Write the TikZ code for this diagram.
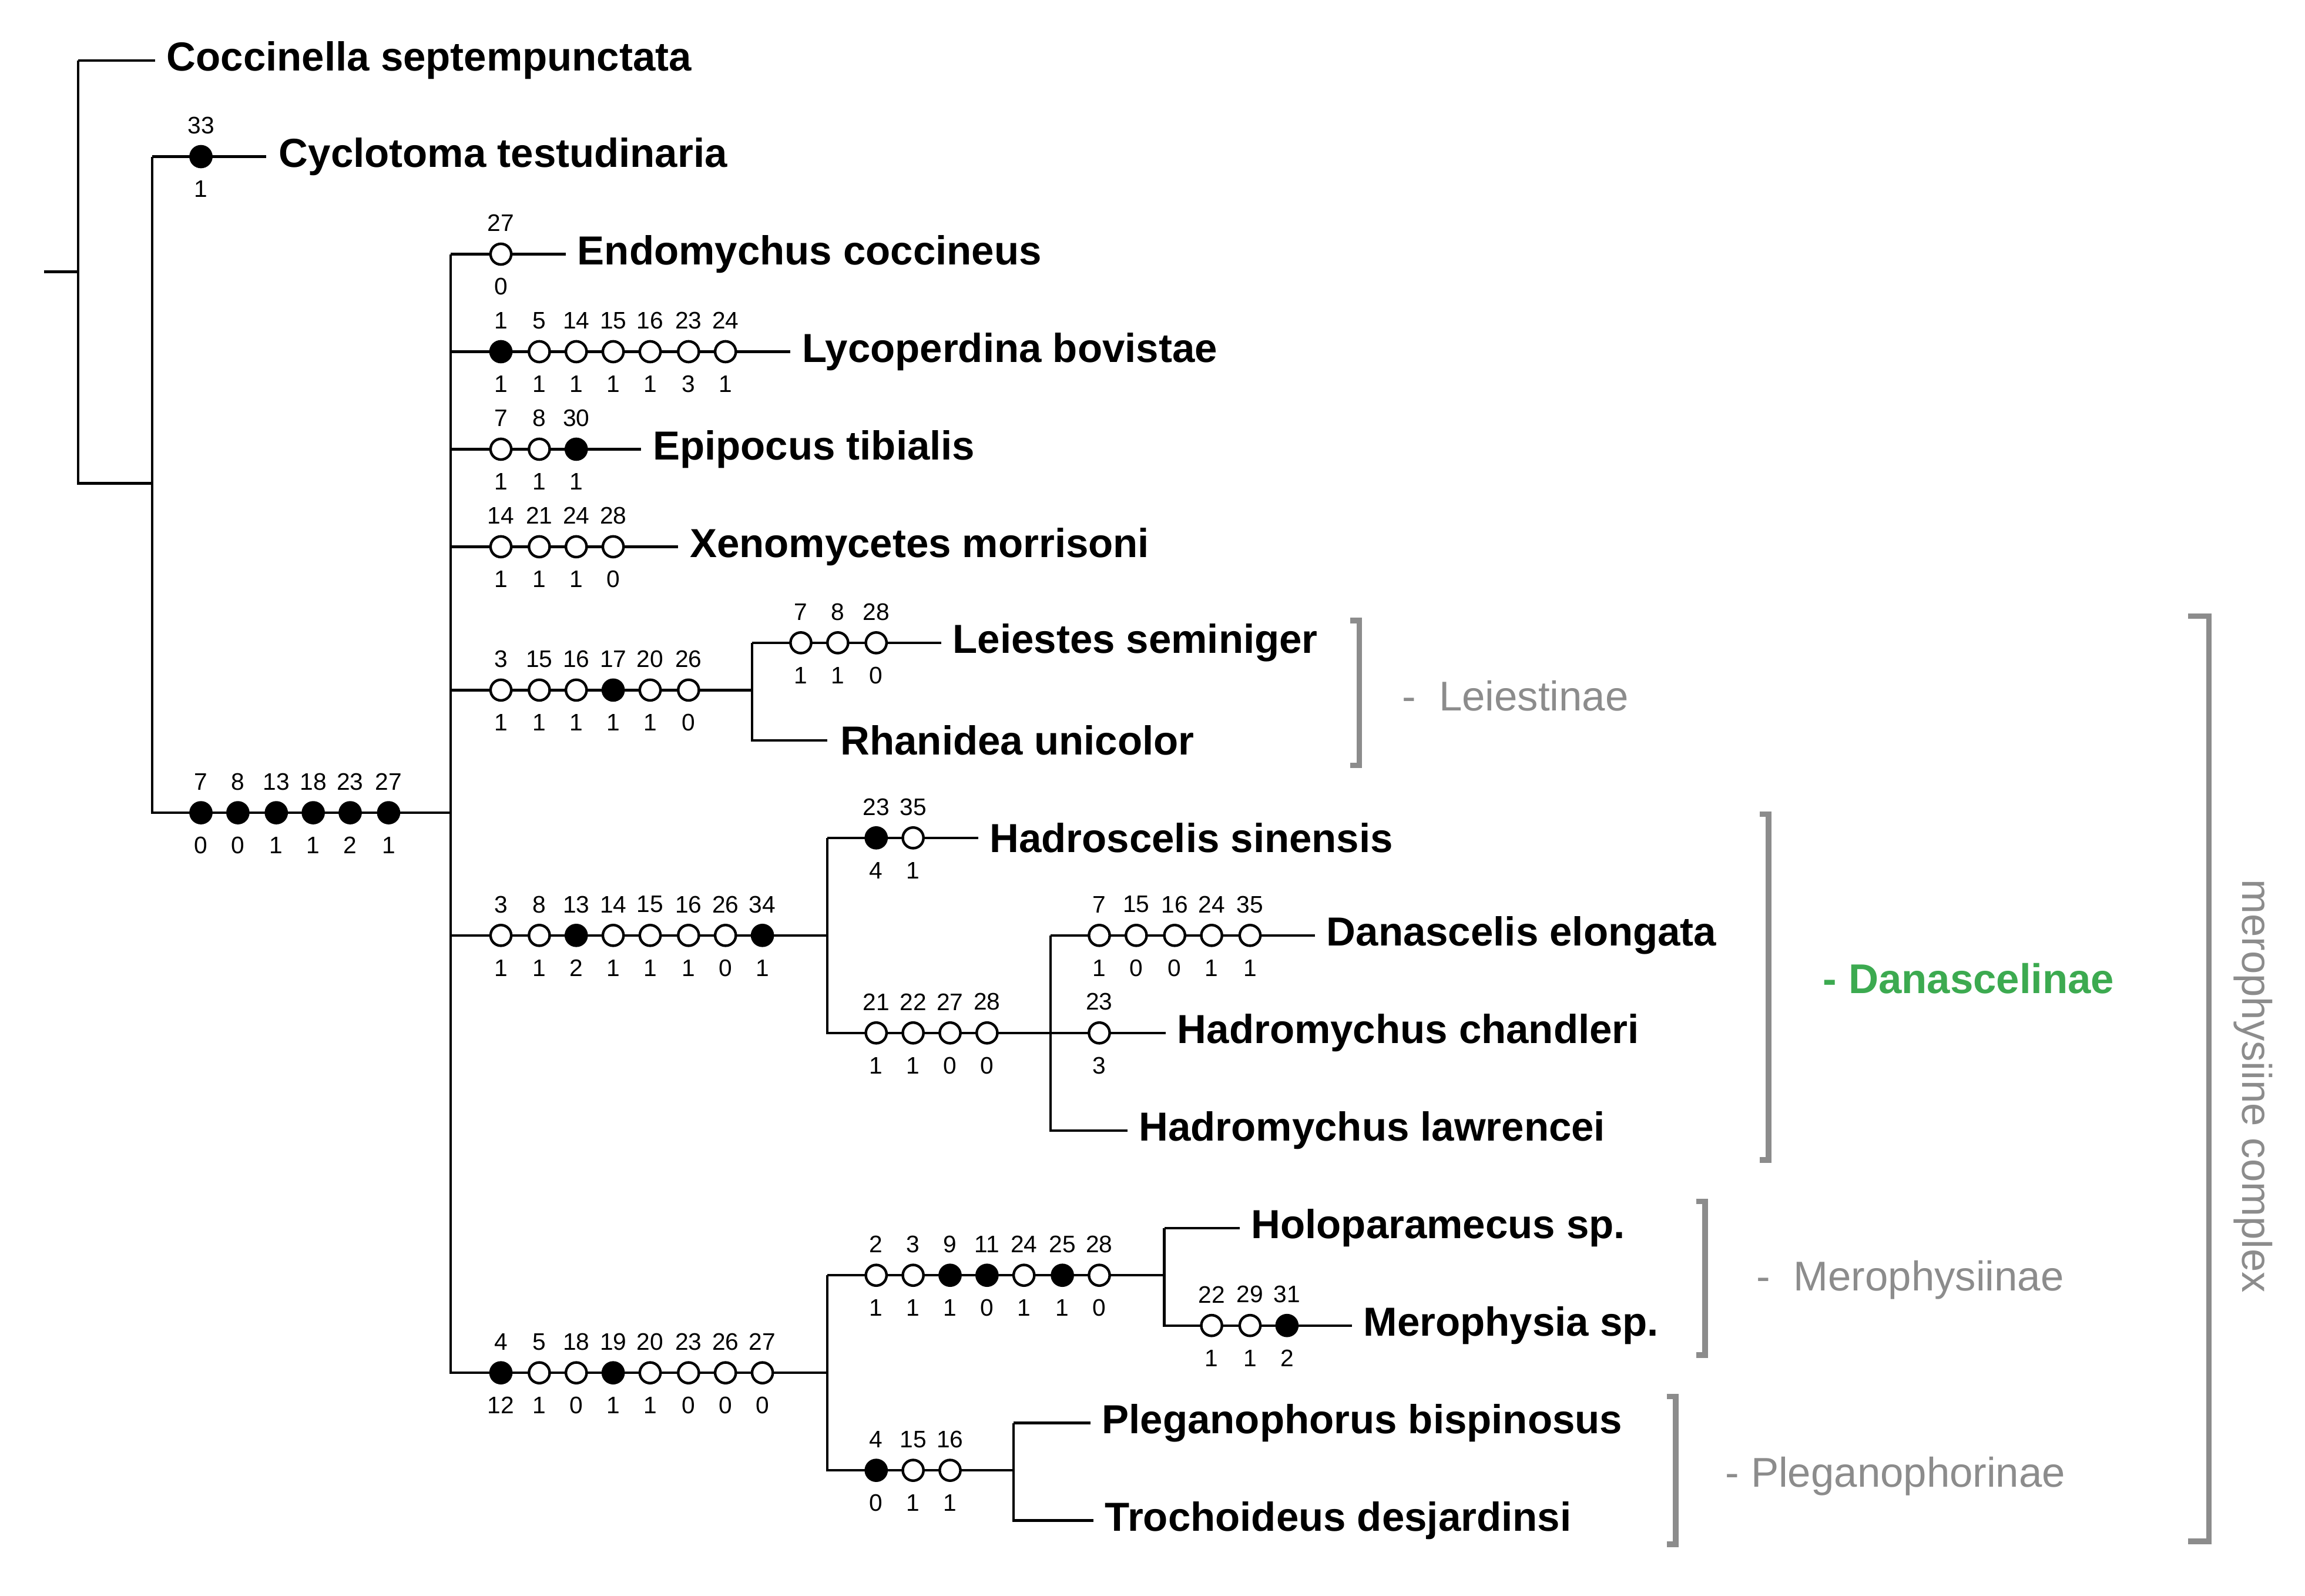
\documentclass[tikz,border=0pt]{standalone}
\usepackage{fontspec}
\setmainfont{Liberation Sans}
\definecolor{cladegray}{RGB}{140,140,140}
\definecolor{danagreen}{RGB}{60,170,80}
\tikzset{
 dotF/.style={circle,draw,fill=black,minimum size=0.14cm,inner sep=0pt,line width=0.5pt},
 dotO/.style={circle,draw,fill=white,minimum size=0.14cm,inner sep=0pt,line width=0.5pt},
 num/.style={font=\fontsize{4.6}{5}\selectfont,inner sep=0pt},
 taxon/.style={anchor=west,inner sep=0pt,font=\fontsize{7.8}{9}\selectfont\bfseries},
 clade/.style={anchor=west,inner sep=0pt,text=cladegray,font=\fontsize{8}{9}\selectfont},
 brk/.style={cladegray,line width=1.1pt}
}
% y, list of x/top/bottom/style
\newcommand\charset[2]{%
 \foreach \cx/\ct/\cb/\cf in {#2} {
  \node[\cf] at (\cx,#1) {};
  \node[num] at (\cx,#1-21) {\ct};
  \node[num] at (\cx,#1+22) {\cb};}}
\begin{document}
\begin{tikzpicture}[x=0.01cm,y=-0.01cm,line width=0.5pt]
 \useasboundingbox (0,0) rectangle (1560,1080);
 % taxa
 \node[taxon] (cocc) at (112,41) {Coccinella septempunctata};
 \node[taxon] (cycl) at (188,106) {Cyclotoma testudinaria};
 \node[taxon] (endo) at (390,172) {Endomychus coccineus};
 \node[taxon] (lyco) at (542,238) {Lycoperdina bovistae};
 \node[taxon] (epip) at (441,304) {Epipocus tibialis};
 \node[taxon] (xeno) at (466,370) {Xenomycetes morrisoni};
 \node[taxon] (leie) at (644,435) {Leiestes seminiger};
 \node[taxon] (rhan) at (568,501) {Rhanidea unicolor};
 \node[taxon] (hsin) at (669,567) {Hadroscelis sinensis};
 \node[taxon] (dane) at (897,633) {Danascelis elongata};
 \node[taxon] (hcha) at (796,699) {Hadromychus chandleri};
 \node[taxon] (hlaw) at (770,765) {Hadromychus lawrencei};
 \node[taxon] (holo) at (846,831) {Holoparamecus sp.};
 \node[taxon] (mero) at (922,897) {Merophysia sp.};
 \node[taxon] (pleg) at (745,963) {Pleganophorus bispinosus};
 \node[taxon] (troc) at (747,1029) {Trochoideus desjardinsi};
 % junctions
 \coordinate (r0) at (30,184);
 \coordinate (r1) at (53,184);
 \coordinate (a1) at (103,327);
 \coordinate (a2) at (305,550);
 \coordinate (b1) at (509,467);
 \coordinate (b2) at (560,633);
 \coordinate (b3) at (711,699);
 \coordinate (b4) at (560,929);
 \coordinate (b5) at (788,863);
 \coordinate (b6) at (686,995);
 % tree
 \draw (r0) -- (r1);
 \draw (r1 |- cocc) -- (r1 |- a1) -- (a1);
 \draw (r1 |- cocc) -- ([xshift=-0.07cm]cocc.west);
 \draw (a1 |- cycl) -- (a1 |- a2) -- (a2);
 \draw (a1 |- cycl) -- ([xshift=-0.08cm]cycl.west);
 \draw (a2 |- endo) -- (a2 |- b4) -- (b4);
 \foreach \t in {endo,lyco,epip,xeno}
  \draw (a2 |- \t) -- ([xshift=-0.07cm]\t.west);
 \draw (a2 |- b1) -- (b1);
 \draw (b1 |- leie) -- (b1 |- rhan) -- ([xshift=-0.08cm]rhan.west);
 \draw (b1 |- leie) -- ([xshift=-0.07cm]leie.west);
 \draw (a2 |- b2) -- (b2);
 \draw (b2 |- hsin) -- (b2 |- b3) -- (b3);
 \draw (b2 |- hsin) -- ([xshift=-0.07cm]hsin.west);
 \draw (b3 |- dane) -- (b3 |- hlaw) -- ([xshift=-0.07cm]hlaw.west);
 \draw (b3 |- dane) -- ([xshift=-0.07cm]dane.west);
 \draw (b3) -- ([xshift=-0.07cm]hcha.west);
 \draw (b4 |- b5) -- (b4 |- b6) -- (b6);
 \draw (b4 |- b5) -- (b5);
 \draw (b5 |- holo) -- (b5 |- mero) -- ([xshift=-0.07cm]mero.west);
 \draw (b5 |- holo) -- ([xshift=-0.07cm]holo.west);
 \draw (b6 |- pleg) -- (b6 |- troc) -- ([xshift=-0.07cm]troc.west);
 \draw (b6 |- pleg) -- ([xshift=-0.07cm]pleg.west);
 % characters
 \charset{106}{136/33/1/dotF}
 \charset{550}{136/7/0/dotF,161/8/0/dotF,187/13/1/dotF,212/18/1/dotF,237/23/2/dotF,263/27/1/dotF}
 \charset{172}{339/27/0/dotO}
 \charset{238}{339/1/1/dotF,365/5/1/dotO,390/14/1/dotO,415/15/1/dotO,440/16/1/dotO,466/23/3/dotO,491/24/1/dotO}
 \charset{304}{339/7/1/dotO,365/8/1/dotO,390/30/1/dotF}
 \charset{370}{339/14/1/dotO,365/21/1/dotO,390/24/1/dotO,415/28/0/dotO}
 \charset{467}{339/3/1/dotO,365/15/1/dotO,390/16/1/dotO,415/17/1/dotF,440/20/1/dotO,466/26/0/dotO}
 \charset{435}{542/7/1/dotO,567/8/1/dotO,593/28/0/dotO}
 \charset{633}{339/3/1/dotO,365/8/1/dotO,390/13/2/dotF,415/14/1/dotO,440/15/1/dotO,466/16/1/dotO,491/26/0/dotO,516/34/1/dotF}
 \charset{567}{593/23/4/dotF,618/35/1/dotO}
 \charset{699}{593/21/1/dotO,618/22/1/dotO,643/27/0/dotO,668/28/0/dotO}
 \charset{633}{744/7/1/dotO,769/15/0/dotO,795/16/0/dotO,820/24/1/dotO,846/35/1/dotO}
 \charset{699}{744/23/3/dotO}
 \charset{929}{339/4/12/dotF,365/5/1/dotO,390/18/0/dotO,415/19/1/dotF,440/20/1/dotO,466/23/0/dotO,491/26/0/dotO,516/27/0/dotO}
 \charset{863}{593/2/1/dotO,618/3/1/dotO,643/9/1/dotF,668/11/0/dotF,693/24/1/dotO,719/25/1/dotF,744/28/0/dotO}
 \charset{897}{820/22/1/dotO,846/29/1/dotO,871/31/2/dotF}
 \charset{995}{593/4/0/dotF,618/15/1/dotO,643/16/1/dotO}
 % brackets
 \draw[brk] (914,420) -- (920,420) -- (920,518) -- (914,518);
 \draw[brk] (1191,551) -- (1197,551) -- (1197,785) -- (1191,785);
 \draw[brk] (1148,813) -- (1154,813) -- (1154,917) -- (1148,917);
 \draw[brk] (1128,945) -- (1134,945) -- (1134,1045) -- (1128,1045);
 \draw[brk] (1481,417) -- (1495,417) -- (1495,1043) -- (1481,1043);
 \node[clade] (leiest) at (948,471) {-\ \ Leiestinae};
 \node[clade,text=danagreen,font=\fontsize{8}{9}\selectfont\bfseries] (danasc) at (1233,662) {- Danascelinae};
 \node[clade] (meroph) at (1188,866) {-\ \ Merophysiinae};
 \node[clade] (plegan) at (1167,999) {- Pleganophorinae};
 \node[clade,anchor=center,rotate=-90] (complex) at (1525,735) {merophysiine complex};
\end{tikzpicture}
\end{document}
